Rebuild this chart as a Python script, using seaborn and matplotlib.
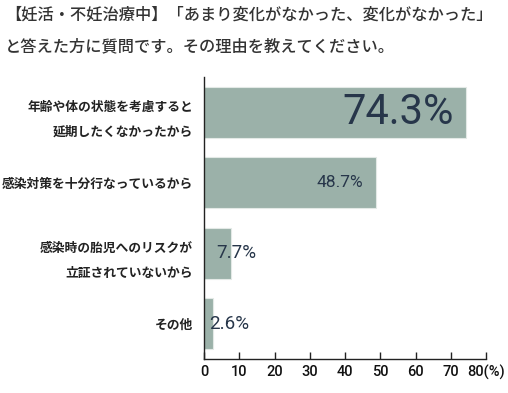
import matplotlib
matplotlib.use("Agg")
import matplotlib.pyplot as plt
import seaborn as sns
import pandas as pd

categories = [
    "年齢や体の状態を考慮すると\n延期したくなかったから",
    "感染対策を十分行なっているから",
    "感染時の胎児へのリスクが\n立証されていないから",
    "その他",
]
values = [74.3, 48.7, 7.7, 2.6]
value_labels = ["74.3%", "48.7%", "7.7%", "2.6%"]
xticks = [0, 10, 20, 30, 40, 50, 60, 70, 80]
xtick_labels = ["0", "10", "20", "30", "40", "50", "60", "70", "80(%)"]
title_lines = [
    "【妊活・不妊治療中】「あまり変化がなかった、変化がなかった」",
    "と答えた方に質問です。その理由を教えてください。",
]

sns.set_style("white")
plt.rcParams["font.family"] = ["Noto Sans CJK JP", "DejaVu Sans"]

df = pd.DataFrame({"category": categories, "value": values})

fig = plt.figure(figsize=(5.08, 3.93), dpi=100)
ax = fig.add_axes([204 / 508, 1 - 359 / 393, 282 / 508, 282 / 393])

bar_color = "#9bb1a9"
sns.barplot(data=df, x="value", y="category", orient="h", color=bar_color,
            width=0.72, edgecolor="#e3e9e6", linewidth=0.8, saturation=1, ax=ax)

ax.set_xlim(0, 80)
ax.set_ylim(3.5, -0.5)
ax.set_xlabel("")
ax.set_ylabel("")

ax.set_xticks(xticks)
ax.set_xticklabels(xtick_labels, fontsize=10.5, fontweight="medium",
                   family=["Roboto", "DejaVu Sans"], color="#111111")
ax.tick_params(axis="x", direction="in", length=5, width=1, color="#222222", pad=4, bottom=True)
ax.tick_params(axis="y", length=0, pad=8)
for lbl in ax.get_yticklabels():
    lbl.set_fontsize(9.2)
    lbl.set_fontweight("bold")
    lbl.set_color("#222222")
    lbl.set_linespacing(2.2)
    lbl.set_horizontalalignment("right")

for side in ["top", "right"]:
    ax.spines[side].set_visible(False)
for side in ["left", "bottom"]:
    ax.spines[side].set_visible(True)
    ax.spines[side].set_color("#222222")
    ax.spines[side].set_linewidth(1)

label_color = "#27364a"
sizes = [30, 12.5, 13.5, 13.5]
for i, (v, txt) in enumerate(zip(values, value_labels)):
    if v > 20:
        ax.annotate(txt, xy=(v, i), xytext=(-9, 0), textcoords="offset points",
                    ha="right", va="center", fontsize=sizes[i], color=label_color,
                    family=["Roboto", "DejaVu Sans"])
    else:
        off = 9 if v > 5 else 4
        ax.annotate(txt, xy=(0, i), xytext=(off, 0), textcoords="offset points",
                    ha="left", va="center", fontsize=sizes[i], color=label_color,
                    family=["Roboto", "DejaVu Sans"])

fig.text(5 / 508, 1 - 15 / 393, title_lines[0], fontsize=11.7, color="#333333",
         fontweight="medium", ha="left", va="center")
fig.text(5 / 508, 1 - 47 / 393, title_lines[1], fontsize=11.7, color="#333333",
         fontweight="medium", ha="left", va="center")

fig.savefig("out.png", dpi=100, facecolor="white")
